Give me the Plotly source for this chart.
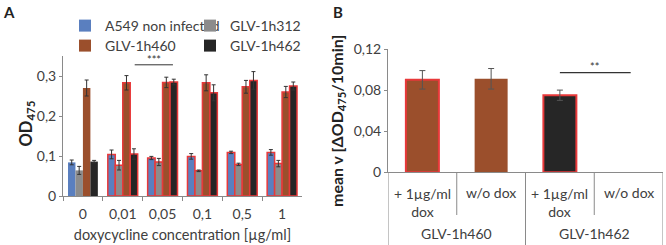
import plotly.graph_objects as go

# ---------- Panel A data ----------
conc = ["0", "0,01", "0,05", "0,1", "0,5", "1"]
a549 = [0.084, 0.104, 0.095, 0.099, 0.109, 0.109]
a549_err = [0.006, 0.011, 0.004, 0.007, 0.003, 0.007]
h312 = [0.064, 0.077, 0.085, 0.063, 0.079, 0.081]
h312_err = [0.010, 0.012, 0.009, 0.002, 0.003, 0.008]
h460 = [0.270, 0.283, 0.284, 0.283, 0.273, 0.260]
h460_err = [0.020, 0.018, 0.013, 0.020, 0.016, 0.014]
h462 = [0.086, 0.105, 0.285, 0.258, 0.289, 0.275]
h462_err = [0.003, 0.013, 0.007, 0.020, 0.022, 0.010]
outlined_a = [False, True, True, True, True, True]
ya_ticks = [0, 0.1, 0.2, 0.3]
ya_labels = ["0", "0,1", "0,2", "0,3"]

# ---------- Panel B data ----------
b_groups = ["GLV-1h460", "GLV-1h460", "GLV-1h462", "GLV-1h462"]
b_cats = ["+ 1µg/ml<br>dox", "w/o dox", "+ 1µg/ml<br>dox", "w/o dox"]
b_vals = [0.090, 0.091, 0.075, None]
b_err = [0.009, 0.010, 0.005, None]
b_fill = ["#9B4F2C", "#9B4F2C", "#262626", "#262626"]
outlined_b = [True, False, True, False]
yb_ticks = [0, 0.04, 0.08, 0.12]
yb_labels = ["0", "0,04", "0,08", "0,12"]

BLUE = "#5A7FBF"
GRAY = "#8C8C8C"
BROWN = "#9B4F2C"
BLACK = "#262626"
RED = "#E8393A"
TXT = "#404040"
AX = "#8A8A8A"
FONT = "Lato"

fig = go.Figure()

series = [
    ("A549 non infected", a549, a549_err, BLUE, "legend"),
    ("GLV-1h312", h312, h312_err, GRAY, "legend3"),
    ("GLV-1h460", h460, h460_err, BROWN, "legend2"),
    ("GLV-1h462", h462, h462_err, BLACK, "legend4"),
]
for name, vals, errs, col, lg in series:
    fig.add_trace(go.Bar(
        x=conc, y=vals, name=name, legend=lg,
        marker=dict(color=col,
                    line=dict(color=[RED if o else col for o in outlined_a],
                              width=[1.5 if o else 0 for o in outlined_a])),
        error_y=dict(type="data", array=errs, color="#333333", thickness=1, width=2),
        xaxis="x", yaxis="y",
    ))

b_x = list(range(len(b_cats)))
fig.add_trace(go.Bar(
    x=b_x, y=b_vals, width=0.48, showlegend=False,
    marker=dict(color=b_fill,
                line=dict(color=[RED if o else c for o, c in zip(outlined_b, b_fill)],
                          width=[2 if o else 0 for o in outlined_b])),
    error_y=dict(type="data", array=b_err, color="#555555", thickness=1, width=3),
    xaxis="x2", yaxis="y2",
))

W, H = 666, 245
def px(x):
    return x / W
def py(y):
    return 1 - y / H

TF = 14
def leg(x, y):
    return dict(orientation="v", x=px(x), y=py(y), xanchor="left", yanchor="top",
                bgcolor="rgba(0,0,0,0)", font=dict(size=14, color=TXT),
                itemwidth=30, tracegroupgap=0)

fig.update_layout(
    width=W, height=H, template="none",
    margin=dict(l=0, r=0, t=0, b=0, autoexpand=False),
    paper_bgcolor="white", plot_bgcolor="white",
    barmode="group", bargap=0.25, bargroupgap=0,
    font=dict(family=FONT, color=TXT, size=12),
    xaxis=dict(domain=[px(63), px(302)], type="category", anchor="y",
               showline=True, linecolor=AX, linewidth=1, showgrid=False,
               ticks="outside", tickson="boundaries", ticklen=4, tickcolor=AX,
               ticklabelstandoff=5,
               tickfont=dict(size=TF, color=TXT), automargin=False,
               title=dict(text="doxycycline concentration [µg/ml]", standoff=9,
                          font=dict(size=14.5, color=TXT))),
    yaxis=dict(domain=[py(196), py(56)], range=[0, 0.35], anchor="x",
               tickvals=ya_ticks, ticktext=ya_labels,
               showline=True, linecolor=AX, linewidth=1, showgrid=False, zeroline=False,
               ticks="outside", ticklen=3, tickcolor=AX,
               tickfont=dict(size=TF, color=TXT), automargin=False),
    xaxis2=dict(domain=[px(388), px(663)], range=[-0.5, 3.5], anchor="y2",
                showline=True, linecolor=AX, linewidth=1, showgrid=False, zeroline=False,
                showticklabels=False, ticks="", automargin=False),
    yaxis2=dict(domain=[py(172.3), py(49)], range=[0, 0.12], anchor="x2",
                tickvals=yb_ticks, ticktext=yb_labels,
                showline=True, linecolor=AX, linewidth=1, showgrid=False, zeroline=False,
                ticks="outside", ticklen=3, tickcolor=AX,
                tickfont=dict(size=TF, color=TXT), automargin=False),
    legend=leg(65, 10),
    legend2=leg(65, 30),
    legend3=leg(190, 10),
    legend4=leg(190, 30),
)

ann = []
shapes = []
# panel letters
ann.append(dict(text="<b>A</b>", x=px(1), y=py(1), xref="paper", yref="paper",
                xanchor="left", yanchor="top", showarrow=False,
                font=dict(size=15, color="#222222")))
ann.append(dict(text="<b>B</b>", x=px(331), y=py(1), xref="paper", yref="paper",
                xanchor="left", yanchor="top", showarrow=False,
                font=dict(size=15, color="#222222")))
# y titles
ann.append(dict(text="<b>OD<sub>475</sub></b>", x=px(14), y=py(124), xref="paper", yref="paper",
                textangle=-90, showarrow=False, font=dict(size=16.5, color="#222222")))
ann.append(dict(text="<b>mean v [ΔOD<sub>475</sub>/10min]</b>", x=px(338), y=py(121),
                xref="paper", yref="paper", textangle=-90, showarrow=False,
                font=dict(size=16, color="#222222")))

# significance A
shapes.append(dict(type="line", xref="x", yref="y", x0=1.3, x1=2.26, y0=0.328, y1=0.328,
                   line=dict(color="#333333", width=1)))
ann.append(dict(text="***", x=1.78, y=0.328, xref="x", yref="y", yanchor="bottom",
                showarrow=False, yshift=-3, font=dict(size=11, color="#333333")))
# significance B
shapes.append(dict(type="line", xref="x2", yref="y2", x0=2.0, x1=3.03, y0=0.097, y1=0.097,
                   line=dict(color="#333333", width=1.2)))
ann.append(dict(text="**", x=2.5, y=0.097, xref="x2", yref="y2", yanchor="bottom",
                showarrow=False, yshift=-2, font=dict(size=11, color="#333333")))

# panel B category labels and separators
for i, lab in enumerate(b_cats):
    two = "<br>" in lab
    ann.append(dict(text=lab, x=i, y=py(183 if two else 192), xref="x2", yref="paper",
                    yanchor="top" if two else "middle",
                    showarrow=False, font=dict(size=TF, color=TXT)))
groups_unique = []
for g in b_groups:
    if g not in groups_unique:
        groups_unique.append(g)
for g in groups_unique:
    idx = [i for i, gg in enumerate(b_groups) if gg == g]
    ann.append(dict(text=g, x=sum(idx) / len(idx), y=py(233), xref="x2", yref="paper",
                    yanchor="middle", showarrow=False, font=dict(size=TF, color=TXT)))
for k in range(len(b_cats) + 1):
    xb = k - 0.5
    boundary_group = k == 0 or k == len(b_cats) or b_groups[k] != b_groups[k - 1]
    shapes.append(dict(type="line", xref="x2", yref="paper", x0=xb, x1=xb,
                       y0=py(172.3), y1=py(245 if boundary_group else 215),
                       line=dict(color=AX, width=1)))

fig.update_layout(annotations=ann, shapes=shapes)
fig.write_html("out.html", config={"displayModeBar": False},
               post_script="document.body.style.margin='0px';document.body.style.overflow='hidden';")
